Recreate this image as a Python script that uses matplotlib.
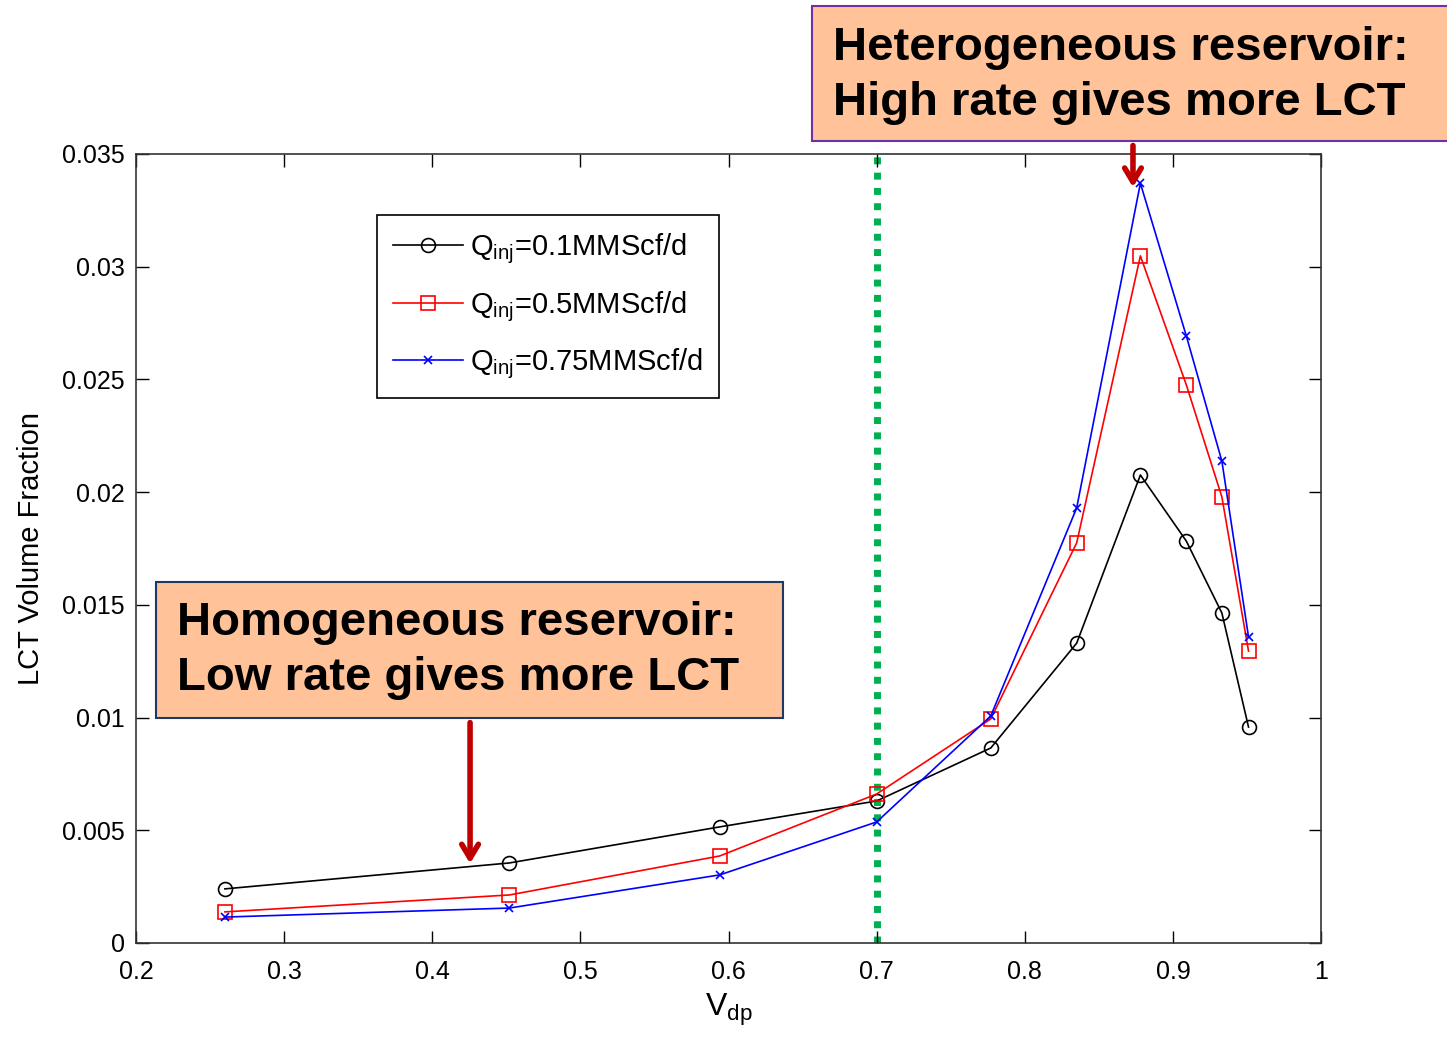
import matplotlib.pyplot as plt
from matplotlib.patches import Rectangle

plt.rcParams['font.family'] = ['Liberation Sans', 'DejaVu Sans']
plt.rcParams['mathtext.fontset'] = 'custom'
plt.rcParams['mathtext.rm'] = 'Liberation Sans'
plt.rcParams['mathtext.it'] = 'Liberation Sans'

# data
vdp = [0.26, 0.452, 0.594, 0.70, 0.777, 0.835, 0.878, 0.909, 0.933, 0.951]
q_01 = [0.00240, 0.00355, 0.00515, 0.00630, 0.00865, 0.0133, 0.02076, 0.01783, 0.01464, 0.00958]
q_05 = [0.00138, 0.00213, 0.00386, 0.00661, 0.00994, 0.01775, 0.03048, 0.02476, 0.01979, 0.01295]
q_075 = [0.00115, 0.00155, 0.00302, 0.00537, 0.01007, 0.0193, 0.03370, 0.02693, 0.02138, 0.01358]
labels = ['$\\mathregular{Q_{inj}}$=0.1MMScf/d',
          '$\\mathregular{Q_{inj}}$=0.5MMScf/d',
          '$\\mathregular{Q_{inj}}$=0.75MMScf/d']
x_ticks = [0.2, 0.3, 0.4, 0.5, 0.6, 0.7, 0.8, 0.9, 1.0]
x_ticklabels = ['0.2', '0.3', '0.4', '0.5', '0.6', '0.7', '0.8', '0.9', '1']
y_ticks = [0, 0.005, 0.01, 0.015, 0.02, 0.025, 0.03, 0.035]
y_ticklabels = ['0', '0.005', '0.01', '0.015', '0.02', '0.025', '0.03', '0.035']

fig = plt.figure(figsize=(14.47, 10.39), dpi=100)
ax = fig.add_axes([0.094, 0.0924, 0.819, 0.7594])

ax.plot(vdp, q_01, '-o', color='black', lw=1.2, ms=10, mfc='none', mew=1.2, label=labels[0])
ax.plot(vdp, q_05, '-s', color='red', lw=1.2, ms=10, mfc='none', mew=1.2, label=labels[1])
ax.plot(vdp, q_075, '-x', color='blue', lw=1.2, ms=6, mew=1.2, label=labels[2])

ax.axvline(0.7, color='#00B050', lw=5, ls=(0, (1, 1.2)), zorder=1)

ax.set_xlim(0.2, 1.0)
ax.set_ylim(0, 0.035)
ax.set_xticks(x_ticks)
ax.set_xticklabels(x_ticklabels)
ax.set_yticks(y_ticks)
ax.set_yticklabels(y_ticklabels)
ax.tick_params(direction='in', top=True, right=True, length=9, width=1, labelsize=18)
ax.tick_params(axis='x', pad=12)
ax.tick_params(axis='y', pad=8)
for s in ax.spines.values():
    s.set_linewidth(1.2)
    s.set_color('#333333')

ax.set_xlabel('$\\mathregular{V_{dp}}$', fontsize=23, labelpad=6)
ax.set_ylabel('LCT Volume Fraction', fontsize=21, labelpad=12)

leg = ax.legend(loc='upper left', bbox_to_anchor=(0.2034, 0.9227), fontsize=21, frameon=True,
                fancybox=False, edgecolor='black', framealpha=1, handlelength=2.4,
                borderpad=0.55, labelspacing=0.8, handletextpad=0.25, borderaxespad=0)
leg.get_frame().set_linewidth(1.2)

# annotation boxes with arrows
fig.add_artist(Rectangle((0.5612, 0.8643), 0.46, 0.1299, transform=fig.transFigure,
                         fc='#FFC299', ec='#7030A0', lw=1.5, zorder=5))
fig.text(0.5757, 0.9273, 'Heterogeneous reservoir:\nHigh rate gives more LCT',
         fontsize=34, fontweight='bold', ha='left', va='center', linespacing=1.35, zorder=6)
fig.add_artist(Rectangle((0.1078, 0.309), 0.4333, 0.1309, transform=fig.transFigure,
                         fc='#FFC299', ec='#1F3864', lw=1.5, zorder=5))
fig.text(0.1223, 0.3739, 'Homogeneous reservoir:\nLow rate gives more LCT',
         fontsize=34, fontweight='bold', ha='left', va='center', linespacing=1.35, zorder=6)

ax.annotate('', xy=(0.4255, 0.0034), xytext=(0.4255, 0.0099),
            arrowprops=dict(arrowstyle='->,head_length=1.0,head_width=0.6', color='#C00000', lw=4))
ax.annotate('', xy=(0.873, 0.0334), xytext=(0.873, 0.0355), annotation_clip=False,
            arrowprops=dict(arrowstyle='->,head_length=1.0,head_width=0.6', color='#C00000', lw=4))

fig.savefig('out.png', dpi=100)
